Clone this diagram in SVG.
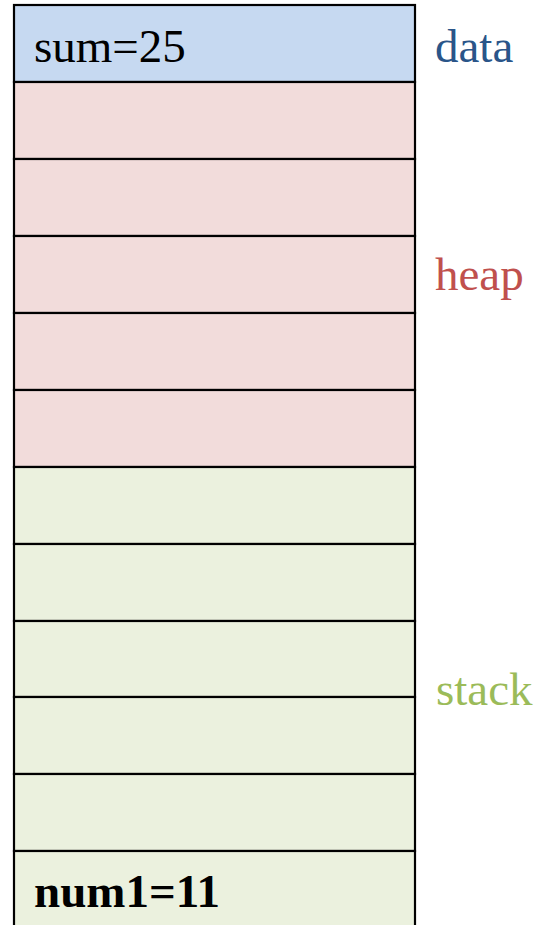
<svg xmlns="http://www.w3.org/2000/svg" width="541" height="925" viewBox="0 0 541 925">
<style>
.cell{stroke:#000;stroke-width:2.2}
.data{fill:#C6D9F1}
.heap{fill:#F2DCDB}
.stack{fill:#EBF1DE}
.t{font-family:"Liberation Serif","Times New Roman",serif;font-size:47px}
</style>
<rect width="541" height="925" fill="#fff"/>
<g id="data-seg">
<rect class="cell data" x="14" y="5" width="401" height="77"/>
<text class="t" x="34" y="62" fill="#000">sum=25</text>
</g>
<g id="heap-seg">
<rect class="cell heap" x="14" y="82" width="401" height="77"/>
<rect class="cell heap" x="14" y="159" width="401" height="77"/>
<rect class="cell heap" x="14" y="236" width="401" height="77"/>
<rect class="cell heap" x="14" y="313" width="401" height="77"/>
<rect class="cell heap" x="14" y="390" width="401" height="77"/>
</g>
<g id="stack-seg">
<rect class="cell stack" x="14" y="467" width="401" height="77"/>
<rect class="cell stack" x="14" y="544" width="401" height="77"/>
<rect class="cell stack" x="14" y="621" width="401" height="76"/>
<rect class="cell stack" x="14" y="697" width="401" height="77"/>
<rect class="cell stack" x="14" y="774" width="401" height="77"/>
<rect class="cell stack" x="14" y="851" width="401" height="80"/>
<text class="t" x="34" y="907" fill="#000" font-weight="bold">num1=11</text>
</g>
<g id="labels">
<text class="t" x="435" y="62" fill="#2A5589">data</text>
<text class="t" x="435" y="290" fill="#C0504D">heap</text>
<text class="t" x="436" y="705" fill="#9BBB59">stack</text>
</g>
</svg>
